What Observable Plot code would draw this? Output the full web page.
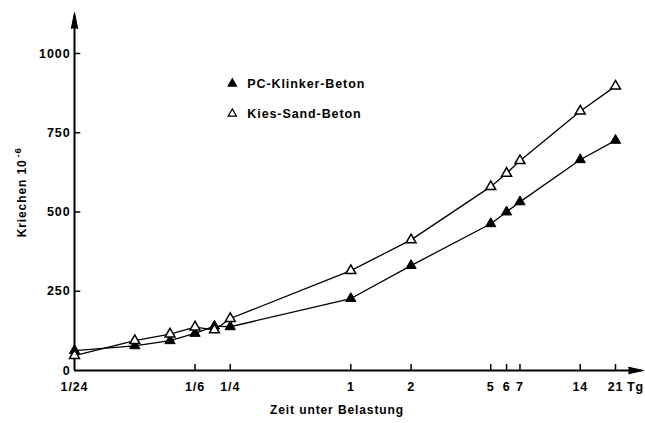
<!DOCTYPE html>
<html>
<head>
<meta charset="utf-8">
<script src="https://cdn.jsdelivr.net/npm/d3@7"></script>
<script src="https://cdn.jsdelivr.net/npm/@observablehq/plot@0.6"></script>
<style>
  html, body { margin: 0; padding: 0; background: #fff; }
  #chart svg { font-family: "Liberation Sans", Arial, sans-serif; }
  #chart svg text { letter-spacing: 0.9px; }
</style>
</head>
<body>
<div id="chart"></div>
<script>
// ---- data ----
const times = [1/24, 1/12, 1/8, 1/6, 5/24, 1/4, 1, 2, 5, 6, 7, 14, 21]; // days
const pcKlinker = [63, 78, 94, 117, 140, 138, 227, 331, 463, 500, 532, 665, 726];
const kiesSand  = [47, 94, 115, 137, 128, 164, 315, 412, 580, 622, 662, 818, 897];
const seriesNames = ["PC-Klinker-Beton", "Kies-Sand-Beton"];
const xTickValues = [1/24, 1/6, 1/4, 1, 2, 5, 6, 7, 14, 21];
const xTickLabels = ["1/24", "1/6", "1/4", "1", "2", "5", "6", "7", "14", "21"];
const yTickValues = [0, 250, 500, 750, 1000];
const xUnit = "Tg";
const xTitle = "Zeit unter Belastung";
const yTitle = "Kriechen 10";
const yTitleExp = "-6";

const rows = [];
times.forEach((t, i) => {
  rows.push({t, v: pcKlinker[i], s: seriesNames[0]});
  rows.push({t, v: kiesSand[i], s: seriesNames[1]});
});
const pcRows = rows.filter(d => d.s === seriesNames[0]);
const ksRows = rows.filter(d => d.s === seriesNames[1]);

const x0 = xTickValues[0];
const xEnd = 29;      // arrow tip beyond last tick
const yEnd = 1129;    // arrow tip above top tick
const legend = [
  {x: 0.256, y: 905, s: seriesNames[0], fill: "black"},
  {x: 0.256, y: 810, s: seriesNames[1], fill: "white"}
];

const chart = Plot.plot({
  width: 645,
  height: 423,
  marginLeft: 74,
  marginRight: 30,
  marginTop: 53,
  marginBottom: 53,
  x: {type: "log", domain: [1/24, 21], axis: null},
  y: {domain: [0, 1000], axis: null},
  marks: [
    // axis lines
    Plot.ruleY([0], {x1: x0, x2: xEnd - 1.5, stroke: "black", strokeWidth: 2}),
    Plot.ruleX([x0], {y1: 0, y2: yEnd - 30, stroke: "black", strokeWidth: 2}),
    Plot.vector([{x: xEnd, y: 0}], {x: "x", y: "y", length: 15, rotate: 90, anchor: "end", shape: "spike", r: 3.2, fill: "black", stroke: "black", strokeWidth: 1}),
    Plot.vector([{x: x0, y: yEnd}], {x: "x", y: "y", length: 16, rotate: 0, anchor: "end", shape: "spike", r: 3.2, fill: "black", stroke: "black", strokeWidth: 1}),
    // ticks (inward)
    Plot.ruleX(xTickValues.slice(1), {x: d => d, y1: -3, y2: 19, stroke: "black", strokeWidth: 1.5}),
    Plot.ruleY(yTickValues.slice(1), {y: d => d, x1: x0, x2: x0 * 1.075, stroke: "black", strokeWidth: 1.5}),
    // tick labels
    Plot.text(xTickValues, {x: d => d, y: 0, text: (d, i) => xTickLabels[i], dy: 16, fontSize: 12.5, fontWeight: "bold", fill: "black"}),
    Plot.text(yTickValues, {x: x0, y: d => d, text: d => String(d), textAnchor: "end", dx: -4, fontSize: 12.5, fontWeight: "bold", fill: "black"}),
    Plot.text([xUnit], {x: 21, y: 0, text: d => d, dx: 20, dy: 16, fontSize: 12.5, fontWeight: "bold", fill: "black"}),
    // axis titles
    Plot.text([xTitle], {frameAnchor: "bottom", text: d => d, dx: -8, dy: 43, fontSize: 12, fontWeight: "bold", fill: "black"}),
    Plot.text([yTitle], {frameAnchor: "left", y: 420, text: d => d, dx: -52, rotate: -90, textAnchor: "start", fontSize: 12, fontWeight: "bold", fill: "black"}),
    Plot.text([yTitleExp], {frameAnchor: "left", y: 672, text: d => d, dx: -57, rotate: -90, textAnchor: "start", fontSize: 9.5, fontWeight: "bold", fill: "black"}),
    // data lines
    Plot.line(pcRows, {x: "t", y: "v", stroke: "black", strokeWidth: 1.3}),
    Plot.line(ksRows, {x: "t", y: "v", stroke: "black", strokeWidth: 1.3}),
    Plot.dot(pcRows, {x: "t", y: "v", symbol: "triangle", r: 3.8, fill: "black", stroke: "black", strokeWidth: 1}),
    Plot.dot(ksRows, {x: "t", y: "v", symbol: "triangle", r: 3.7, fill: "white", stroke: "black", strokeWidth: 1.5}),
    // legend
    Plot.dot(legend, {x: "x", y: "y", symbol: "triangle", r: 3.1, fill: "fill", stroke: "black", strokeWidth: 1.2}),
    Plot.text(legend, {x: "x", y: "y", text: "s", dx: 15, textAnchor: "start", fontSize: 12.5, fontWeight: "bold", fill: "black"})
  ]
});
document.getElementById("chart").appendChild(chart);
</script>
</body>
</html>
